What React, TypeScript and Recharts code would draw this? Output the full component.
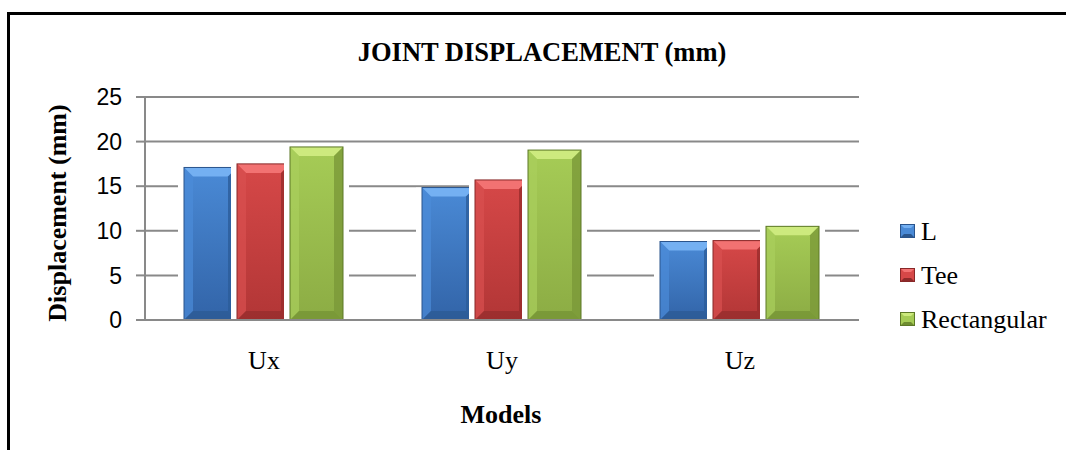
import React from "react";
import {
  BarChart,
  Bar,
  XAxis,
  YAxis,
  CartesianGrid,
  Legend,
} from "recharts";

// values
const categories = ["Ux", "Uy", "Uz"];
const lValues = [17.1, 14.85, 8.8];
const teeValues = [17.5, 15.7, 8.9];
const rectValues = [19.4, 19.05, 10.5];
const yTicks = [0, 5, 10, 15, 20, 25];
const seriesNames = ["L", "Tee", "Rectangular"];

const data = categories.map((name, i) => ({
  name,
  L: lValues[i],
  Tee: teeValues[i],
  Rectangular: rectValues[i],
}));

const serif = '"Liberation Serif", "Times New Roman", serif';
const sans = '"Liberation Sans", Arial, sans-serif';
const gridGray = "#898989";

// bevel colours per series
const palettes: { [key: string]: any } = {
  L: { top: "#4a8ad6", bottom: "#3264a8", light: "#74b0f2", left: "#4b8bd8", right: "#2c5c9a", base: "#2a568e", edge: "#2a548c" },
  Tee: { top: "#d64848", bottom: "#b23636", light: "#f27272", left: "#d85050", right: "#982c2c", base: "#8e2a2a", edge: "#882828" },
  Rectangular: { top: "#a6cc56", bottom: "#8cac44", light: "#cdea7e", left: "#aacf5c", right: "#7a9838", base: "#6e8c30", edge: "#5c7826" },
};

const BevelBar = (props: any) => {
  const { x, y, width, height, dataKey } = props;
  if (!height || height <= 0) return null;
  const p = palettes[dataKey];
  const b = Math.min(9, width / 4, height / 4);
  const r = x + width;
  const bt = y + height;
  return (
    <g>
      <rect x={x - 6} y={y} width={width + 12} height={height} fill="#ffffff" />
      <rect x={x} y={y} width={width} height={height} fill={`url(#face-${dataKey})`} />
      <polygon points={`${x},${y} ${r},${y} ${r - b},${y + b} ${x + b},${y + b}`} fill={p.light} />
      <polygon points={`${x},${y} ${x + b},${y + b} ${x + b},${bt - b} ${x},${bt}`} fill={p.left} opacity={0.7} />
      <polygon points={`${r},${y} ${r - b},${y + b} ${r - b},${bt - b} ${r},${bt}`} fill={p.right} opacity={0.8} />
      <polygon points={`${x},${bt} ${x + b},${bt - b} ${r - b},${bt - b} ${r},${bt}`} fill={p.base} opacity={0.6} />
      <rect x={x} y={y} width={width} height={height} fill="none" stroke={p.edge} strokeWidth={1} />
    </g>
  );
};

const LegendMarker = ({ k }: { k: string }) => {
  const p = palettes[k];
  return (
    <svg width={15} height={14} style={{ display: "block", marginRight: 6 }}>
      <rect x={0} y={0} width={15} height={14} fill={p.top} />
      <polygon points="0,0 15,0 11,4 4,4" fill={p.light} />
      <polygon points="0,14 4,10 11,10 15,14" fill={p.base} />
      <rect x={0.5} y={0.5} width={14} height={13} fill="none" stroke={p.edge} strokeWidth={1} />
    </svg>
  );
};

// legend keeps the series order of the original (L, Tee, Rectangular)
const renderLegend = () => {
  return (
    <div>
      {seriesNames.map((name) => (
        <div
          key={name}
          style={{ display: "flex", alignItems: "center", height: 44, fontFamily: serif, fontSize: 26, color: "#000" }}
        >
          <LegendMarker k={name} />
          <span style={{ lineHeight: "29px" }}>{name}</span>
        </div>
      ))}
    </div>
  );
};

const App: React.FC = () => {
  return (
    <div style={{ position: "fixed", left: 0, top: 0, width: 1066, height: 450, overflow: "hidden", background: "#fff" }}>
      {/* frame of the original figure */}
      <div
        style={{
          position: "absolute",
          left: 7,
          top: 12,
          width: 1100,
          height: 500,
          border: "3px solid #000",
        }}
      />
      <div style={{ position: "absolute", left: 0, top: 0 }}>
        <BarChart
          width={1066}
          height={450}
          data={data}
          margin={{ top: 97, right: 207, bottom: 90, left: 0 }}
          barCategoryGap={39}
          barGap={0}
        >
          <defs>
            {Object.keys(palettes).map((k) => (
              <linearGradient key={k} id={`face-${k}`} x1="0" y1="0" x2="0" y2="1">
                <stop offset="0%" stopColor={palettes[k].top} />
                <stop offset="100%" stopColor={palettes[k].bottom} />
              </linearGradient>
            ))}
          </defs>
          <CartesianGrid vertical={false} stroke={gridGray} strokeWidth={2} />
          <XAxis
            dataKey="name"
            height={40}
            tickLine={false}
            tickSize={0}
            tickMargin={31}
            axisLine={{ stroke: gridGray, strokeWidth: 2 }}
            tick={{ fontFamily: serif, fontSize: 26, fill: "#000" }}
          />
          <YAxis
            width={145}
            domain={[0, 25]}
            ticks={yTicks}
            interval={0}
            tickSize={9}
            tickMargin={14}
            axisLine={{ stroke: gridGray, strokeWidth: 2 }}
            tickLine={{ stroke: gridGray, strokeWidth: 2 }}
            tick={{ fontFamily: sans, fontSize: 23, fill: "#000" }}
          />
          <Legend
            layout="vertical"
            align="center"
            verticalAlign="middle"
            content={renderLegend}
            wrapperStyle={{ left: 900, top: 209, width: 166 }}
          />
          <Bar dataKey="L" name="L" fill={palettes.L.top} shape={<BevelBar />} isAnimationActive={false} />
          <Bar dataKey="Tee" name="Tee" fill={palettes.Tee.top} shape={<BevelBar />} isAnimationActive={false} />
          <Bar dataKey="Rectangular" name="Rectangular" fill={palettes.Rectangular.top} shape={<BevelBar />} isAnimationActive={false} />
        </BarChart>
      </div>
      {/* chart title */}
      <div
        style={{
          position: "absolute",
          left: 342,
          top: 38,
          width: 400,
          textAlign: "center",
          fontFamily: serif,
          fontWeight: "bold",
          fontSize: 26.5,
          lineHeight: "29px",
          whiteSpace: "nowrap",
        }}
      >
        JOINT DISPLACEMENT (mm)
      </div>
      {/* y axis title */}
      <div
        style={{
          position: "absolute",
          left: 57,
          top: 213,
          transform: "translate(-50%, -50%) rotate(-90deg)",
          fontFamily: serif,
          fontWeight: "bold",
          fontSize: 26,
          lineHeight: "29px",
          whiteSpace: "nowrap",
        }}
      >
        Displacement (mm)
      </div>
      {/* x axis title */}
      <div
        style={{
          position: "absolute",
          left: 401,
          top: 400,
          width: 200,
          textAlign: "center",
          fontFamily: serif,
          fontWeight: "bold",
          fontSize: 26,
          lineHeight: "29px",
        }}
      >
        Models
      </div>
    </div>
  );
};

export default App;
